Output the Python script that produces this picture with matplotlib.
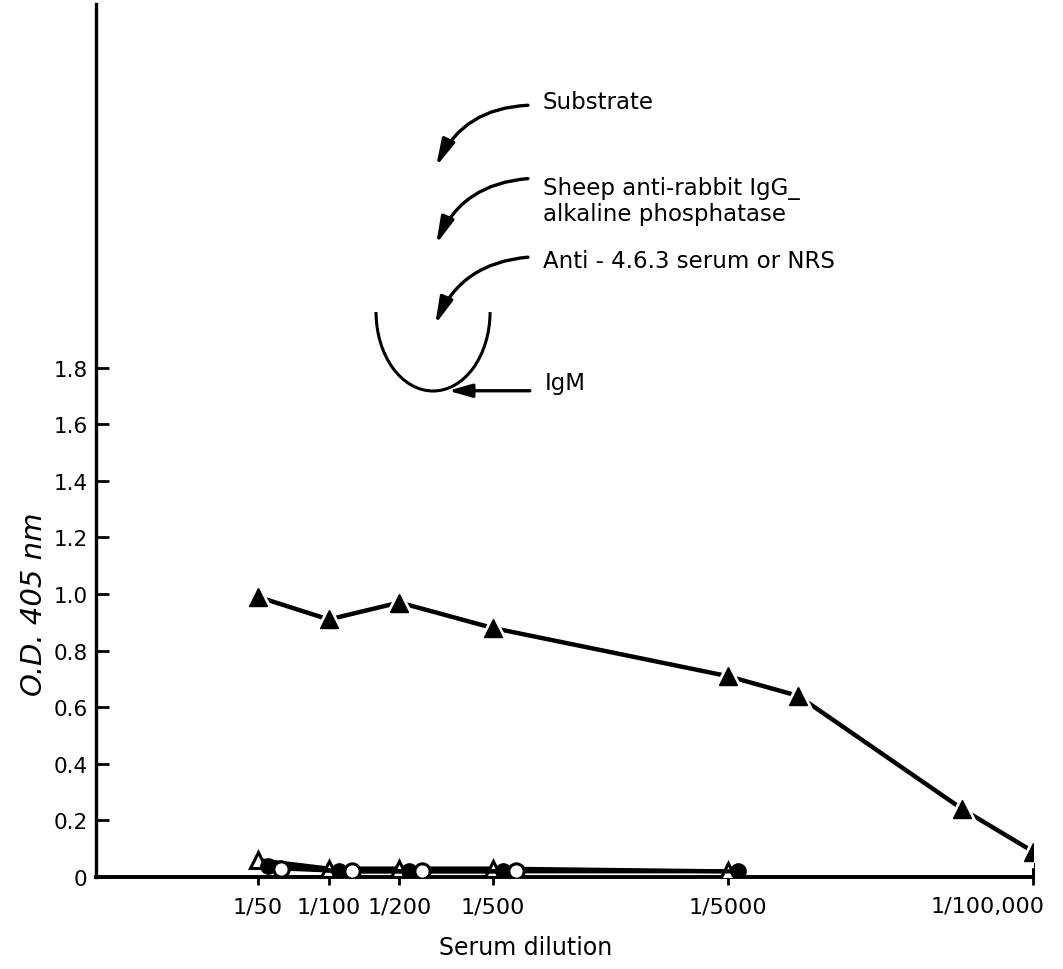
import matplotlib
matplotlib.use("Agg")
import matplotlib.pyplot as plt
from matplotlib.patches import FancyArrowPatch, Arc
from matplotlib.transforms import offset_copy, ScaledTranslation
from matplotlib.ticker import NullLocator, FixedLocator

# ---------------- data ----------------
# serum dilution factors (1/x)
dil_anti = [50, 100, 200, 500, 5000, 10000, 50000, 100000]
od_anti = [0.99, 0.91, 0.97, 0.88, 0.71, 0.64, 0.24, 0.09]

dil_tri_open = [50, 100, 200, 500, 5000]
od_tri_open = [0.06, 0.03, 0.03, 0.03, 0.02]

dil_circ_filled = [50, 100, 200, 500, 5000]
od_circ_filled = [0.04, 0.02, 0.02, 0.02, 0.02]

dil_circ_open = [50, 100, 200, 500]
od_circ_open = [0.03, 0.02, 0.02, 0.02]

xtick_vals = [50, 100, 200, 500, 5000, 100000]
xtick_labels = ["1/50", "1/100", "1/200", "1/500", "1/5000", "1/100,000"]
ytick_vals = [0, 0.2, 0.4, 0.6, 0.8, 1.0, 1.2, 1.4, 1.6, 1.8]
ytick_labels = ["0", "0.2", "0.4", "0.6", "0.8", "1.0", "1.2", "1.4", "1.6", "1.8"]

# ---------------- figure ----------------
plt.rcParams["font.family"] = ["DejaVu Sans"]
fig = plt.figure(figsize=(10.63, 9.70), dpi=100)
ax = fig.add_axes([96 / 1063, 1 - 878 / 970, 937 / 1063, 873 / 970])

ax.set_xscale("log")
ax.set_xlim(10 ** 1.009, 1e5)
ax.set_ylim(0, 3.085)

# filled triangle series with gaps around the markers
ax.plot(dil_anti, od_anti, color="black", lw=3.2, solid_capstyle="butt", zorder=3)
ax.plot(dil_anti, od_anti, ls="none", marker="^", ms=22, mfc="white", mec="white", zorder=4)
ax.plot(dil_anti, od_anti, ls="none", marker="^", ms=13, mfc="black", mec="black", zorder=5)

# low series (drawn with small horizontal offsets like in the original)
tr_c1 = offset_copy(ax.transData, fig=fig, x=10, y=0, units="dots")
tr_c2 = offset_copy(ax.transData, fig=fig, x=23, y=0, units="dots")
ax.plot(dil_tri_open, od_tri_open, color="black", lw=3, marker="^", ms=12,
        mfc="white", mec="black", mew=2.2, zorder=6)
ax.plot(dil_circ_filled, od_circ_filled, color="black", lw=3, marker="o", ms=11,
        mfc="black", mec="black", transform=tr_c1, zorder=6)
ax.plot(dil_circ_open, od_circ_open, color="black", lw=3, marker="o", ms=11,
        mfc="white", mec="black", mew=2.2, transform=tr_c2, zorder=7)

# axes styling
ax.spines["top"].set_visible(False)
ax.spines["right"].set_bounds(0, 0.045)
ax.spines["right"].set_linewidth(2.2)
ax.spines["left"].set_linewidth(2.4)
ax.spines["bottom"].set_linewidth(2.8)

ax.xaxis.set_major_locator(FixedLocator(xtick_vals))
ax.xaxis.set_minor_locator(NullLocator())
ax.set_xticklabels(xtick_labels)
ax.set_yticks(ytick_vals)
ax.set_yticklabels(ytick_labels)
ax.tick_params(axis="x", direction="out", length=6, width=2, labelsize=16, pad=8)
ax.tick_params(axis="y", direction="in", length=9, width=2, labelsize=15.5, pad=6)
ax.tick_params(axis="y", right=False)

last = ax.get_xticklabels()[-1]
last.set_transform(last.get_transform() + ScaledTranslation(-0.45, 0, fig.dpi_scale_trans))

ax.set_xlabel("Serum dilution", fontsize=17)
ax.xaxis.set_label_coords(0.459, -0.080)
ax.xaxis.label.set_va("center")

ax.set_ylabel("O.D. 405 nm", fontsize=21, style="italic")
ax.yaxis.set_label_coords(-0.066, 0.314)
ax.yaxis.label.set_va("center")
ax.yaxis.label.set_ha("center")

# ---------------- schematic annotation ----------------
T = ax.transAxes
fs = 16.5
ax.text(0.477, 0.888, "Substrate", transform=T, fontsize=fs, va="center", ha="left")
ax.text(0.477, 0.775, "Sheep anti-rabbit IgG_\nalkaline phosphatase", transform=T,
        fontsize=fs, va="center", ha="left", linespacing=1.2)
ax.text(0.477, 0.706, "Anti - 4.6.3 serum or NRS", transform=T, fontsize=fs, va="center", ha="left")
ax.text(0.479, 0.566, "IgM", transform=T, fontsize=fs, va="center", ha="left")

arrow_kw = dict(transform=T, arrowstyle="-|>,head_length=0.8,head_width=0.2",
                mutation_scale=20, lw=2.4, color="black",
                connectionstyle="arc3,rad=0.3", shrinkA=0, shrinkB=0)
for (x0, y0, x1, y1) in [(0.461, 0.884, 0.363, 0.814),
                         (0.461, 0.800, 0.363, 0.725),
                         (0.461, 0.710, 0.362, 0.633)]:
    ax.add_patch(FancyArrowPatch((x0, y0), (x1, y1), **arrow_kw))

ax.add_patch(Arc((0.3597, 0.6472), 0.1217, 0.181, theta1=180, theta2=360,
                 transform=T, lw=2.2, color="black"))
ax.add_patch(FancyArrowPatch((0.463, 0.557), (0.376, 0.557), transform=T,
                             arrowstyle="-|>,head_length=0.7,head_width=0.2",
                             mutation_scale=20, lw=2.4, color="black",
                             shrinkA=0, shrinkB=0))

fig.savefig("out.png", dpi=100)
